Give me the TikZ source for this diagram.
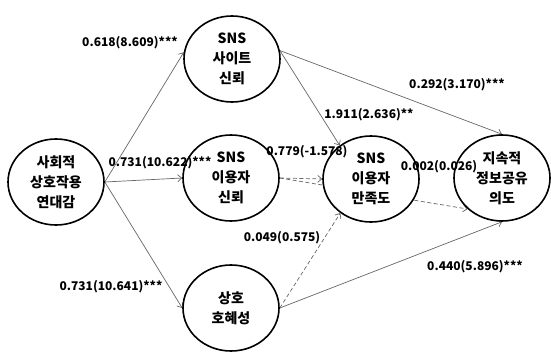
\documentclass[tikz,border=0pt]{standalone}
\usepackage{fontspec}
\setmainfont{Noto Sans CJK KR}
\usetikzlibrary{shapes.geometric,arrows.meta,backgrounds}
\begin{document}
\begin{tikzpicture}[x=1pt,y=-1pt,
  latent/.style={ellipse,draw=black,line width=1.6pt,fill=white,minimum width=96pt,minimum height=86pt,inner sep=0pt,align=center,font=\bfseries\fontsize{14}{20}\selectfont},
  pathline/.style={draw=black!60,line width=0.7pt,-{Straight Barb[length=4pt,width=7pt]}},
  dpathline/.style={pathline,dash pattern=on 4pt off 2.5pt},
  lbl/.style={font=\bfseries\fontsize{12}{14}\selectfont,inner sep=0pt}]
\useasboundingbox (0,0) rectangle (551,353);
\node[latent] (A) at (56,182) {사회적\\상호작용\\연대감};
\node[latent] (B) at (232,59) {SNS\\사이트\\신뢰};
\node[latent] (C) at (231,178) {SNS\\이용자\\신뢰};
\node[latent] (D) at (231,308) {상호\\호혜성};
\node[latent] (E) at (371,179) {SNS\\이용자\\만족도};
\node[latent] (F) at (502,178) {지속적\\정보공유\\의도};
\begin{scope}[on background layer]
\draw[pathline] (A.east) -- (B.172);
\draw[pathline] (A.east) -- (C.west);
\draw[pathline] (A.east) -- (D.west);
\draw[pathline] (B.10) -- (E.133);
\draw[pathline] (B.10) -- (F.north);
\draw[dpathline] (C.east) -- (E.west);
\draw[dpathline] (C.east) -- (F.222);
\draw[dpathline] (D.east) -- (E.228);
\draw[pathline] (D.east) -- (F.south);
\end{scope}
\node[lbl] (l1) at (130,43) {0.618(8.609)***};
\node[lbl] (l2) at (160,163) {0.731(10.622)***};
\node[lbl] (l3) at (111,287) {0.731(10.641)***};
\node[lbl] (l4) at (307,152) {0.779(-1.578)};
\node[lbl] (l5) at (369,115) {1.911(2.636)**};
\node[lbl] (l6) at (457,85) {0.292(3.170)***};
\node[lbl] (l7) at (439,167) {0.002(0.026)};
\node[lbl] (l8) at (282,238) {0.049(0.575)};
\node[lbl] (l9) at (475,267) {0.440(5.896)***};
\end{tikzpicture}
\end{document}
